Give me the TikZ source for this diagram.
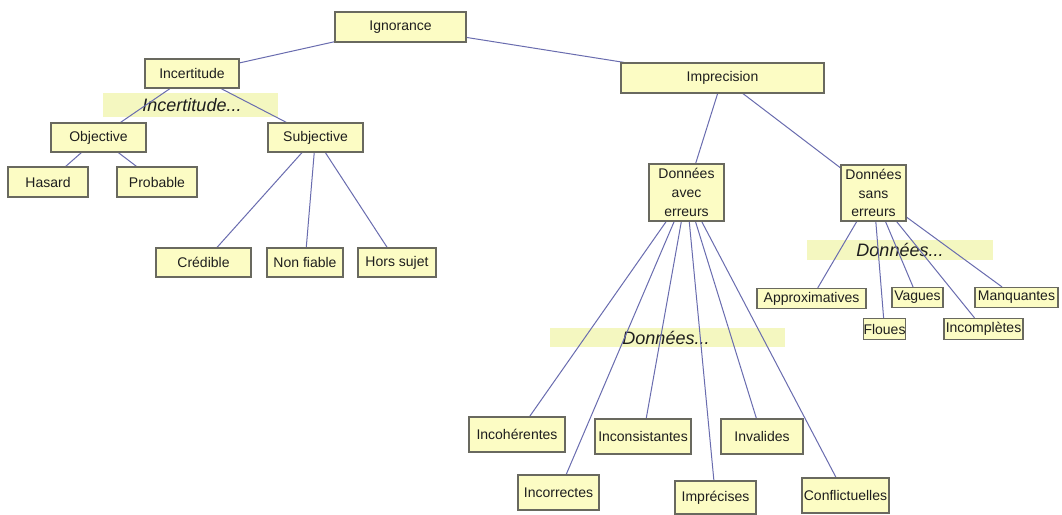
\documentclass[tikz,border=0pt]{standalone}
\usepackage{fontspec}
\setmainfont{Liberation Sans}
\usetikzlibrary{backgrounds}
\definecolor{BoxClr}{RGB}{252,252,196}
\definecolor{BorderClr}{RGB}{105,105,95}
\definecolor{LinkClr}{RGB}{105,108,175}
\definecolor{BandClr}{RGB}{244,247,192}
\definecolor{TextClr}{RGB}{30,30,30}

\begin{document}
\begin{tikzpicture}[x=0.75pt,y=-0.75pt,
  box/.style={draw=BorderClr,line width=0.9pt,fill=BoxClr,text=TextClr,inner sep=0pt,
    align=center,font=\fontsize{10.5}{14}\selectfont},
  wh/.style 2 args={minimum width=#1*0.75pt,minimum height=#2*0.75pt},
  band/.style={fill=BandClr,draw=none},
  bandtxt/.style={text=TextClr,inner sep=0pt,font=\fontsize{13.5}{16}\selectfont\itshape},
  link/.style={draw=LinkClr,line width=0.75pt}]
\useasboundingbox (0,0) rectangle (1062,514);

% top levels
\node[box,wh={131}{30}] (Ign) at (400.5,27) {Ignorance};
\node[box,wh={94}{29}] (Inc) at (192,73.5) {Incertitude};
\node[box,wh={203}{30}] (Imp) at (722.5,78) {Imprecision};

\node[box,wh={95}{29}] (Obj) at (98.5,137.5) {Objective};
\node[box,wh={95}{29}] (Sub) at (315.5,137.5) {Subjective};
\node[box,wh={80}{30}] (Has) at (48,182) {Hasard};
\node[box,wh={80}{30}] (Pro) at (157,182) {Probable};
\node[box,wh={95}{29}] (Cre) at (203.5,262.5) {Crédible};
\node[box,wh={76}{29}] (Nfi) at (305,262.5) {Non fiable};
\node[box,wh={78}{29}] (Hsu) at (397,262.5) {Hors sujet};

\node[box,wh={75}{57}] (DAE) at (686.5,192.5) {Données\\avec\\erreurs};
\node[box,wh={65}{56}] (DSE) at (873.5,193) {Données\\sans\\erreurs};

\node[box,wh={96}{35}] (Ich) at (517,434.5) {Incohérentes};
\node[box,wh={81}{35}] (Icr) at (558.5,492.5) {Incorrectes};
\node[box,wh={96}{35}] (Ics) at (643,436.5) {Inconsistantes};
\node[box,wh={81}{33}] (Ipr) at (715.5,497.5) {Imprécises};
\node[box,wh={82}{35}] (Inv) at (762,436.5) {Invalides};
\node[box,wh={87}{35}] (Cfl) at (845.5,495.5) {Conflictuelles};

\node[box,wh={109}{20}] (App) at (811.5,298.5) {Approximatives};
\node[box,wh={41}{21}] (Flo) at (884.5,329) {Floues};
\node[box,wh={51}{20}] (Vag) at (917.5,297.5) {Vagues};
\node[box,wh={79}{21}] (Icp) at (983.5,329) {Incomplètes};
\node[box,wh={83}{20}] (Man) at (1016.5,297.5) {Manquantes};

\begin{pgfonlayer}{background}
\fill[white] (0,0) rectangle (1062,514);
\fill[band] (103,93) rectangle (278,117);
\fill[band] (550,328) rectangle (785,347);
\fill[band] (807,240) rectangle (993,260);
\node[bandtxt] (TInc) at (192,105) {Incertitude...};
\node[bandtxt] (TDAE) at (666,338) {Données...};
\node[bandtxt] (TDSE) at (900,250) {Données...};

\draw[link] (Ign) -- (Inc);
\draw[link] (Ign) -- (Imp);
\draw[link] (Inc) -- (Obj);
\draw[link] (Inc) -- (Sub);
\draw[link] (Obj) -- (Has);
\draw[link] (Obj) -- (Pro);
\foreach \n in {Cre,Nfi,Hsu} \draw[link] (Sub) -- (\n);
\draw[link] (Imp) -- (DAE);
\draw[link] (Imp) -- (DSE);
\foreach \n in {Ich,Icr,Ics,Ipr,Inv,Cfl} \draw[link] (DAE) -- (\n);
\foreach \n in {App,Flo,Vag,Icp,Man} \draw[link] (DSE) -- (\n);
\end{pgfonlayer}

\end{tikzpicture}
\end{document}
